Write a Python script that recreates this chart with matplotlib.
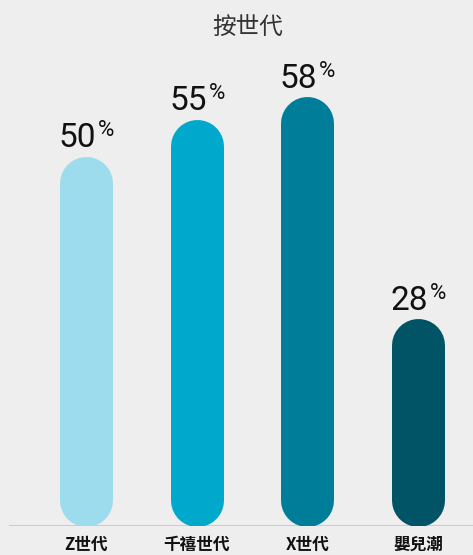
import matplotlib
matplotlib.use("Agg")
import matplotlib.pyplot as plt

categories = ["Z世代", "千禧世代", "X世代", "嬰兒潮"]
values = [50, 55, 58, 28]
colors = ["#9ddcec", "#00a8cc", "#007d99", "#005466"]
title = "按世代"

W, H, DPI = 473, 555, 100
PT = 72 / DPI
fig = plt.figure(figsize=(W / DPI, H / DPI), dpi=DPI, facecolor="#eeeeee")
bottom_px = 29
ax = fig.add_axes([0, bottom_px / H, 1, 1 - bottom_px / H])
ax.set_facecolor("#eeeeee")
ax.axis("off")

px_per_unit_x = (418 - 86) / 3
ax.set_xlim(-86 / px_per_unit_x, 3 + (W - 418) / px_per_unit_x)
px_per_pct = 7.4
ax.set_ylim(0, (H - bottom_px) / px_per_pct)

bar_w_px = 53
lw_pt = bar_w_px * PT
r = (bar_w_px / 2) / px_per_pct

cjk = ["Noto Sans CJK TC", "DejaVu Sans"]
for i, (v, c) in enumerate(zip(values, colors)):
    ax.plot([i, i], [r, v - r], color=c, lw=lw_pt, solid_capstyle="round", zorder=2)
    ax.annotate(str(v), xy=(i, v), xytext=(10 * PT, 9 * PT),
                textcoords="offset points", ha="right", va="baseline",
                fontsize=24, family="Roboto", color="#111111")
    ax.annotate("%", xy=(i, v), xytext=(12 * PT, 20 * PT),
                textcoords="offset points", ha="left", va="baseline",
                fontsize=16, family="Roboto", color="#111111")
    ax.annotate(categories[i], xy=(i, 0), xytext=(0, -10 * PT),
                textcoords="offset points", ha="center", va="top",
                fontsize=12, family=cjk, fontweight="bold", color="#111111")

ax.axhline(0, xmin=10 / W, xmax=1, color="#c4c4c4", lw=1.2, zorder=1)

fig.text(248 / W, 1 - 27 / H, title, ha="center", va="center", fontsize=17,
         family=cjk, color="#333333")

fig.savefig("out.png", dpi=DPI, facecolor=fig.get_facecolor())
